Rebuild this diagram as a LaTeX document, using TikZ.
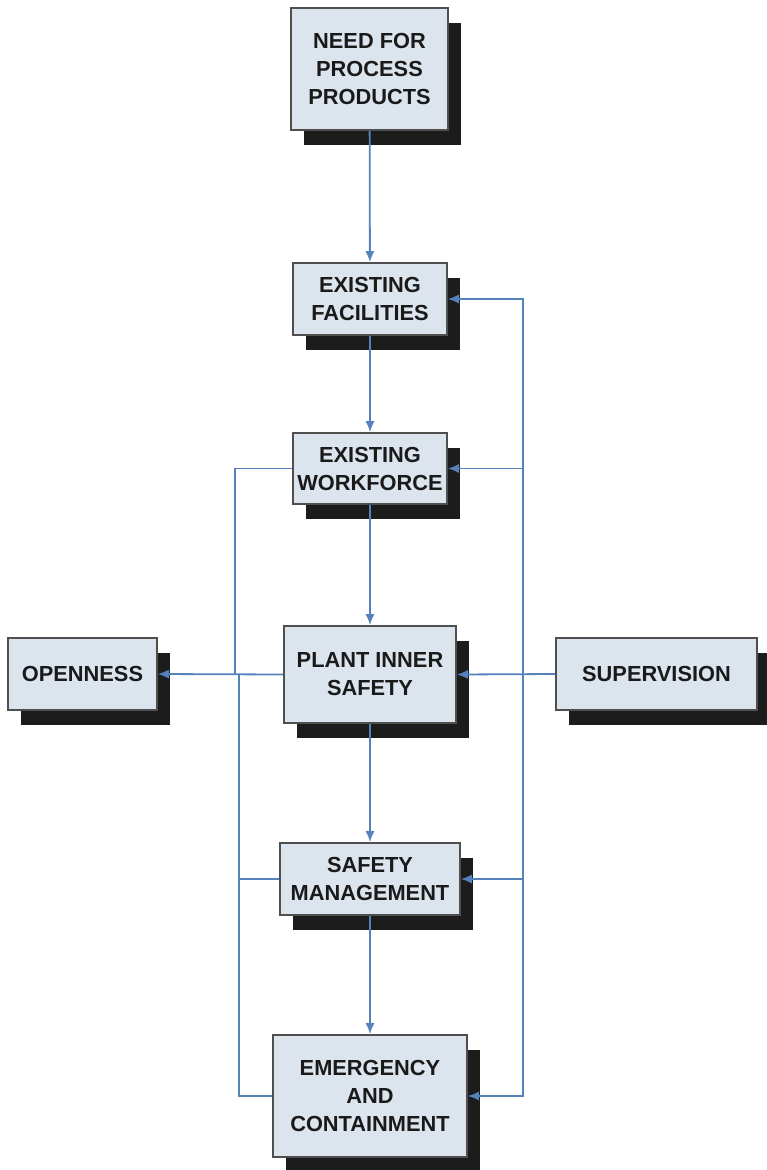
\documentclass[tikz,border=0pt]{standalone}
\usepackage{fontspec}
\setmainfont{Liberation Sans}
\usetikzlibrary{arrows.meta,shadows}
\definecolor{boxfill}{HTML}{DCE5EE}
\definecolor{boxline}{HTML}{4F4F4F}
\definecolor{linkc}{HTML}{5682BC}
\definecolor{shad}{HTML}{1C1C1C}
\definecolor{txt}{HTML}{1A1A1A}
\begin{document}
\begin{tikzpicture}[x=1pt,y=-1pt,
  box/.style={draw=boxline, line width=1.6pt, fill=boxfill, inner sep=0pt,
    align=center, text=txt,
    font=\fontsize{21.8}{28}\selectfont\bfseries,
    general shadow={fill=shad, shadow xshift=13pt, shadow yshift=-15pt}},
  link/.style={draw=linkc, line width=1.8pt},
  arr/.style={link, -{Latex[length=11pt,width=9pt]}}]
\useasboundingbox (0,0) rectangle (766,1170);
\fill[white] (0,0) rectangle (766,1170);

\node[box, minimum width=157pt, minimum height=122pt] (need) at (369.5,69) {NEED FOR\\PROCESS\\PRODUCTS};
\node[box, minimum width=154pt, minimum height=72pt] (fac) at (370,299) {EXISTING\\FACILITIES};
\node[box, minimum width=154pt, minimum height=71pt] (work) at (370,468.5) {EXISTING\\WORKFORCE};
\node[box, minimum width=172pt, minimum height=97pt] (plant) at (370,674.5) {PLANT INNER\\SAFETY};
\node[box, minimum width=149pt, minimum height=72pt] (open) at (82.5,674) {OPENNESS};
\node[box, minimum width=201pt, minimum height=72pt] (sup) at (656.5,674) {SUPERVISION};
\node[box, minimum width=180pt, minimum height=72pt] (sm) at (370,879) {SAFETY\\MANAGEMENT};
\node[box, minimum width=194pt, minimum height=122pt] (em) at (370,1096) {EMERGENCY\\AND\\CONTAINMENT};

% main chain
\draw[arr] (need) -- (fac);
\draw[arr] (fac) -- (work);
\draw[arr] (work) -- (plant);
\draw[arr] (plant) -- (sm);
\draw[arr] (sm) -- (em);

% supervision feedback
\coordinate (R) at (523,675);
\draw[arr] (sup.west) -- (plant.east);
\draw[arr] (R) |- (fac.east);
\draw[arr] (R) |- (work.east);
\draw[arr] (R) |- (sm.east);
\draw[arr] (R) |- (em.east);

% openness collection
\coordinate (L1) at (235,675);
\coordinate (L2) at (239,675);
\draw[arr] (plant.west) -- (open.east);
\draw[link] (work.west) -| (L1);
\draw[link] (sm.west) -| (L2);
\draw[link] (em.west) -| (L2);
\end{tikzpicture}
\end{document}
